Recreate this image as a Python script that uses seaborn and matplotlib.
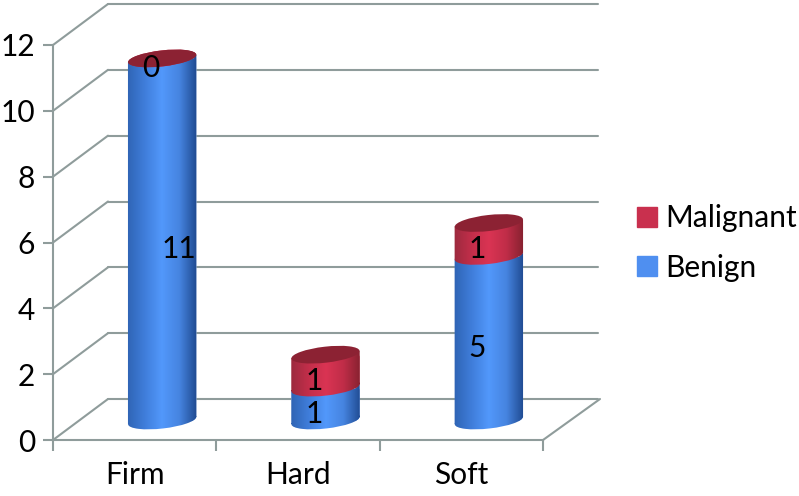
import numpy as np
import matplotlib
matplotlib.use('Agg')
import matplotlib.pyplot as plt
import seaborn as sns
from matplotlib.colors import LinearSegmentedColormap
from matplotlib.patches import Ellipse, Patch
from matplotlib.path import Path
from matplotlib.transforms import Affine2D, IdentityTransform

categories = ['Firm', 'Hard', 'Soft']
benign = [11, 1, 5]
malignant = [0, 1, 1]
y_ticks = [0, 2, 4, 6, 8, 10, 12]

W, H = 799, 496
GRID = '#8f9c9b'
FONT = 21.5

sns.set_theme(style='ticks')
plt.rcParams['font.family'] = ['Lato', 'DejaVu Sans']

fig = plt.figure(figsize=(W / 100, H / 100), dpi=100)
ax = fig.add_axes([53 / W, 1 - 440 / H, 490 / W, 395 / H])

sns.barplot(x=categories, y=benign, color='#4f8ff0', width=68 / 163.3, saturation=1, ax=ax, zorder=3)
sns.barplot(x=categories, y=malignant, bottom=benign, color='#c9304e', width=68 / 163.3, saturation=1, ax=ax, zorder=4)
ax.set_xlim(-0.5, 2.5)
ax.set_ylim(0, 12)

# bars sit in the middle of the fake 3d floor
shift = Affine2D().translate(27.5, 19.5)
bar_trans = ax.transData + shift
back_trans = ax.transData + Affine2D().translate(55, 41)

# back wall and side wall lines
for v in y_ticks:
    ax.plot([-0.5, 2.5], [v, v], color=GRID, lw=1.5, transform=back_trans, clip_on=False, zorder=1)
    x0, y0 = ax.transData.transform((-0.5, v))
    ax.plot([x0, x0 + 55], [y0, y0 + 41], color=GRID, lw=1.5, transform=IdentityTransform(), clip_on=False, zorder=1)
x0, y0 = ax.transData.transform((2.5, 0))
ax.plot([x0, x0 + 57], [y0, y0 + 41], color=GRID, lw=1.5, transform=IdentityTransform(), clip_on=False, zorder=1)

blue_map = LinearSegmentedColormap.from_list('blue', ['#2f64b4', '#3f7dda', '#5298fb', '#4684e0', '#1f4a90'])
red_map = LinearSegmentedColormap.from_list('red', ['#9c2a3e', '#c22e4a', '#da3453', '#c02d48', '#85212f'])
gradient = np.linspace(0, 1, 256)[None, :]

A, B, TILT, LEAN = 34.3, 8.0, 6.5, 3.5


def body_path(cx, yb, yt):
    hw = 34.2
    poly = Path([(cx - hw, yb - LEAN), (cx + hw, yb + LEAN), (cx + hw, yt + LEAN), (cx - hw, yt - LEAN), (cx - hw, yb - LEAN)], closed=True)
    foot = Affine2D().scale(A, B).rotate_deg(TILT).translate(cx, yb).transform_path(Path.unit_circle())
    return Path.make_compound_path(poly, foot)


n = len(categories)
for i, bar in enumerate(ax.patches[:2 * n]):
    cmap = blue_map if i < n else red_map
    z = 3 if i < n else 4
    xc = bar.get_x() + bar.get_width() / 2
    cx, yb = bar_trans.transform((xc, bar.get_y()))
    _, yt = bar_trans.transform((xc, bar.get_y() + bar.get_height()))
    clip = body_path(cx, yb, yt)
    bar.set_transform(bar_trans)
    bar.set_clip_path(clip, IdentityTransform())
    im = ax.imshow(gradient, cmap=cmap, aspect='auto', transform=IdentityTransform(), zorder=z,
                   extent=[cx - 35, cx + 35, yb - 15, yt + 15])
    im.set_clip_path(clip, IdentityTransform())
    if i >= n:
        ax.add_patch(Ellipse((cx, yt), 2 * A, 2 * B, angle=TILT, facecolor='#8c2233', edgecolor='none',
                             transform=IdentityTransform(), zorder=5))

# value labels sit up and to the right of the front plane
label_dx = [[44, 16, 16], [16, 16, 16]]
for j, series in enumerate([benign, malignant]):
    base = benign if j == 1 else [0] * n
    for i, val in enumerate(series):
        ax.annotate(str(val), (i, base[i] + val / 2), xytext=(label_dx[j][i], 10), textcoords='offset pixels',
                    ha='center', va='center', fontsize=FONT, color='black', zorder=6, annotation_clip=False)

ax.set_xlim(-0.5, 2.5)
ax.set_ylim(0, 12)
ax.set_xlabel('')
ax.set_ylabel('')
ax.set_yticks(y_ticks)
ax.set_xticks(range(n), categories)
ax.set_xticks([-0.5, 0.5, 1.5, 2.5], minor=True)
ax.tick_params(axis='x', which='major', length=0, pad=15, labelsize=FONT, labelcolor='black')
ax.tick_params(axis='x', which='minor', length=8, width=1.5, color=GRID)
ax.tick_params(axis='y', length=7, width=1.5, color=GRID, pad=6, labelsize=FONT, labelcolor='black')
ax.patch.set_alpha(0)
sns.despine(ax=ax)
for side in ['left', 'bottom']:
    ax.spines[side].set_color(GRID)
    ax.spines[side].set_linewidth(1.5)

handles = [Patch(color='#c9304e', label='Malignant'), Patch(color='#4f8ff0', label='Benign')]
fig.legend(handles=handles, loc='center left', bbox_to_anchor=(637 / W, 1 - 243 / H), frameon=False,
           fontsize=FONT, handlelength=0.66, handleheight=0.66, handletextpad=0.27, labelspacing=0.72,
           borderpad=0, borderaxespad=0, labelcolor='black')

fig.savefig('out.png', dpi=100)
